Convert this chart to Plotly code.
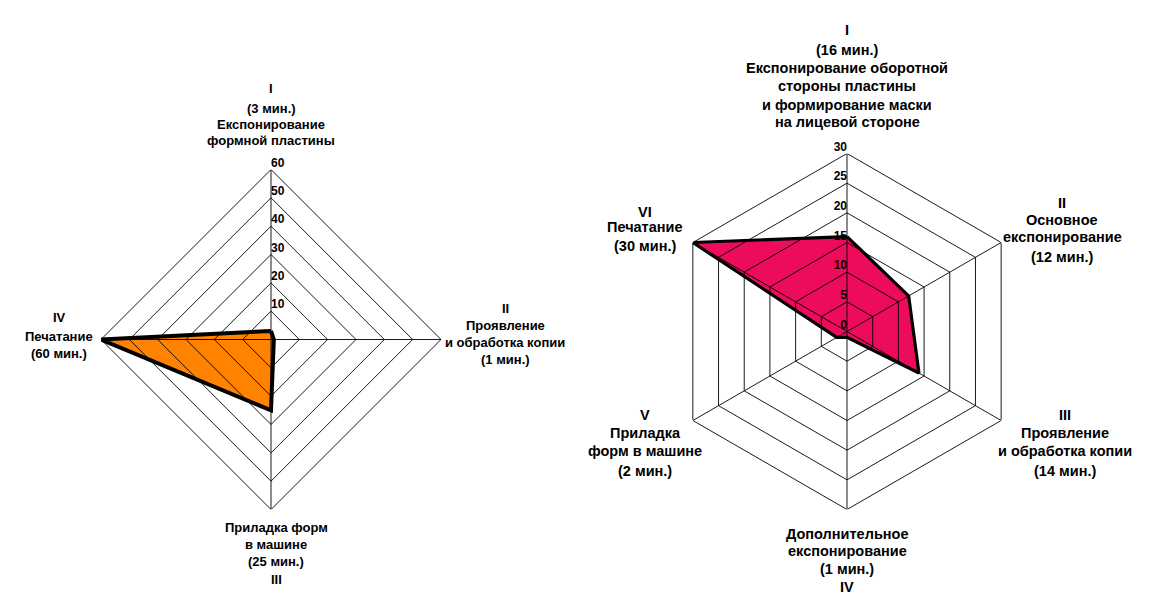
import plotly.graph_objects as go

W, H = 1157, 612

# ---------------- data ----------------
left_categories = ["I", "II", "III", "IV"]
left_minutes = [3, 1, 25, 60]
left_names = [
    ["Експонирование", "формной пластины"],
    ["Проявление", "и обработка копии"],
    ["Приладка форм", "в машине"],
    ["Печатание"],
]
left_ticks = [10, 20, 30, 40, 50, 60]
left_grid = [10, 20, 30, 40, 50, 60]

right_categories = ["I", "II", "III", "IV", "V", "VI"]
right_minutes = [16, 12, 14, 1, 2, 30]
right_names = [
    ["Експонирование оборотной", "стороны пластины", "и формирование маски", "на лицевой стороне"],
    ["Основное", "експонирование"],
    ["Проявление", "и обработка копии"],
    ["Дополнительное", "експонирование"],
    ["Приладка", "форм в машине"],
    ["Печатание"],
]
right_ticks = [0, 5, 10, 15, 20, 25, 30]
right_grid = [5, 10, 15, 20, 25, 30]

LEFT_FILL = "#FF8200"
RIGHT_FILL = "#EC0C5B"
FONT = "Liberation Sans"

fig = go.Figure()


def add_radar(polar, cats, vals, grid, rmin, rmax, ticks, fill, outline_w, tick_pos):
    closed_c = cats + [cats[0]]
    closed_v = vals + [vals[0]]
    # filled area
    fig.add_trace(go.Scatterpolar(
        r=closed_v, theta=closed_c, subplot=polar, mode="lines",
        fill="toself", fillcolor=fill, line=dict(width=0, color=fill),
        hoverinfo="skip", showlegend=False))
    # ring grid drawn above the fill
    for g in grid:
        fig.add_trace(go.Scatterpolar(
            r=[g] * len(closed_c), theta=closed_c, subplot=polar, mode="lines",
            line=dict(width=0.9, color="black"), hoverinfo="skip", showlegend=False))
    # spokes
    for c in cats:
        fig.add_trace(go.Scatterpolar(
            r=[rmin, rmax], theta=[c, c], subplot=polar, mode="lines",
            line=dict(width=0.9, color="black"), hoverinfo="skip", showlegend=False))
    # outline
    fig.add_trace(go.Scatterpolar(
        r=closed_v, theta=closed_c, subplot=polar, mode="lines",
        line=dict(width=outline_w, color="black"), hoverinfo="skip", showlegend=False))
    # radial tick labels along the first axis
    fig.add_trace(go.Scatterpolar(
        r=ticks, theta=[cats[0]] * len(ticks), subplot=polar, mode="text",
        text=[str(t) for t in ticks], textposition=tick_pos, cliponaxis=False,
        textfont=dict(family=FONT, size=12, color="black", weight="bold"),
        hoverinfo="skip", showlegend=False))


add_radar("polar", left_categories, left_minutes, left_grid, 0, 60, left_ticks,
          LEFT_FILL, 4, "top right")
add_radar("polar2", right_categories, right_minutes, right_grid, 0, 30, right_ticks,
          RIGHT_FILL, 3.2, "top left")


def px_dom(x0, x1, y0, y1):
    return dict(x=[x0 / W, x1 / W], y=[1 - y1 / H, 1 - y0 / H])


def polar_layout(dom, rng):
    return dict(
        domain=dom,
        bgcolor="white",
        gridshape="circular",
        radialaxis=dict(range=rng, showline=False, showgrid=False,
                        showticklabels=False, ticks="", angle=90),
        angularaxis=dict(direction="clockwise", rotation=90, showline=False,
                         showgrid=False, showticklabels=False, ticks="",
                         type="category"),
    )


annotations = []


def label_block(x, lines):
    for (txt, y, size) in lines:
        annotations.append(dict(
            x=x / W, y=1 - y / H, xref="paper", yref="paper",
            xanchor="center", yanchor="middle", showarrow=False,
            text="<b>" + txt + "</b>",
            font=dict(family=FONT, size=size, color="black")))


def mins(m):
    return "(" + str(m) + " мин.)"


LS = 13     # left label font size
RS = 14.5   # right label font size

# left chart labels
label_block(271, [(left_categories[0], 88.5, LS), (mins(left_minutes[0]), 108.5, LS),
                  (left_names[0][0], 124.5, LS), (left_names[0][1], 141, LS)])
label_block(505, [(left_categories[1], 308, LS), (left_names[1][0], 325, LS),
                  (left_names[1][1], 342, LS), (mins(left_minutes[1]), 359, LS)])
label_block(276, [(left_names[2][0], 527.5, LS), (left_names[2][1], 544.5, LS),
                  (mins(left_minutes[2]), 561.5, LS), (left_categories[2], 579, LS)])
label_block(59, [(left_categories[3], 317.5, LS), (left_names[3][0], 336, LS),
                 (mins(left_minutes[3]), 353.5, LS)])

# right chart labels
label_block(847, [(right_categories[0], 30, RS), (mins(right_minutes[0]), 49.5, RS),
                  (right_names[0][0], 68, RS), (right_names[0][1], 86, RS),
                  (right_names[0][2], 104.5, RS), (right_names[0][3], 122.5, RS)])
label_block(1062, [(right_categories[1], 203, RS), (right_names[1][0], 220, RS),
                   (right_names[1][1], 237, RS), (mins(right_minutes[1]), 256.5, RS)])
label_block(1065, [(right_categories[2], 415, RS), (right_names[2][0], 432.5, RS),
                   (right_names[2][1], 451, RS), (mins(right_minutes[2]), 470.5, RS)])
label_block(847, [(right_names[3][0], 533.5, RS), (right_names[3][1], 550.5, RS),
                  (mins(right_minutes[3]), 569, RS), (right_categories[3], 587, RS)])
label_block(645, [(right_categories[4], 415, RS), (right_names[4][0], 432.5, RS),
                  (right_names[4][1], 451, RS), (mins(right_minutes[4]), 470.5, RS)])
label_block(645, [(right_categories[5], 212, RS), (right_names[5][0], 227, RS),
                  (mins(right_minutes[5]), 246, RS)])

fig.update_layout(
    width=W, height=H,
    margin=dict(l=0, r=0, t=0, b=0),
    paper_bgcolor="white",
    plot_bgcolor="white",
    showlegend=False,
    polar=polar_layout(px_dom(101, 441, 169.5, 509.5), [0, 60]),
    polar2=polar_layout(px_dom(669, 1025, 153.5, 509.5), [0, 30]),
    annotations=annotations,
)

fig.write_html("out.html", config={"displayModeBar": False},
               post_script="document.body.style.margin='0';document.body.style.padding='0';")
